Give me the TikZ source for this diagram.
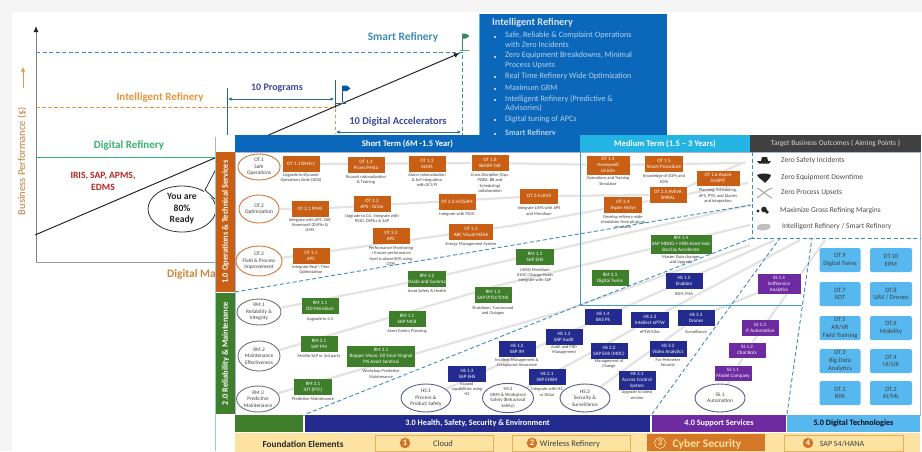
\documentclass[tikz,border=0pt]{standalone}
\usepackage{fontspec}
\setmainfont{Carlito}
\usetikzlibrary{shapes.geometric,arrows.meta}
\definecolor{cOr}{HTML}{C95F14}
\definecolor{cGr}{HTML}{3F7F2C}
\definecolor{cNv}{HTML}{232C8E}
\definecolor{cPu}{HTML}{6E2AA0}
\definecolor{cLb}{HTML}{56B8EE}
\definecolor{cDash}{HTML}{3E8DB8}
\definecolor{cBlue}{HTML}{0A67BA}
\definecolor{cFnd}{HTML}{FDE3A2}
\definecolor{cPan}{HTML}{A9B4DA}
\definecolor{cTitle}{HTML}{3B4A9A}
\definecolor{cIntOr}{HTML}{E2973F}
\definecolor{cDigGr}{HTML}{35B56E}
\tikzset{
 tbox/.style={draw=none,inner sep=0pt,align=center,text=white,font=\fontsize{5}{5.8}\selectfont},
 obox/.style={tbox,fill=cOr},
 gbox/.style={tbox,fill=cGr},
 nbox/.style={tbox,fill=cNv},
 pbox/.style={tbox,fill=cPu},
 dbox/.style={draw=none,fill=cLb,rounded corners=1.5pt,inner sep=0pt,align=center,text=black!75,font=\fontsize{6.5}{7.8}\selectfont},
 capt/.style={inner sep=0pt,align=center,text=black!75,font=\fontsize{4.4}{5.2}\selectfont},
 oval/.style={ellipse,draw,line width=.9pt,fill=white,inner sep=0pt,align=center,text=black!75,font=\fontsize{5.3}{6.4}\selectfont},
 oovl/.style={oval,draw=cOr!85!white},
 govl/.style={oval,draw=black!55},
 novl/.style={oval,draw=cNv!60!black!70},
 bdash/.style={draw=cDash,line width=.9pt,dash pattern=on 4pt off 2.5pt},
 flowline/.style={draw=black!11,line width=2.2pt},
 tbar/.style={inner sep=0pt,align=center},
 thead/.style={tbar,text=white,font=\fontsize{8.6}{10}\selectfont\bfseries},
 outc/.style={anchor=west,inner sep=0pt,text=black!70,font=\fontsize{7.5}{8.5}\selectfont},
 bull/.style={anchor=north west,inner sep=0pt,text=white!70!cBlue,align=left,font=\fontsize{8.2}{9.3}\selectfont},
 fnd/.style={draw=cIntOr!70!cFnd,fill=cFnd,line width=.5pt,inner sep=0pt},
 numc/.style={circle,fill=cIntOr!40!cOr,text=white,inner sep=0pt,minimum size=10.5pt,font=\fontsize{8.5}{9}\selectfont\bfseries},
 dblarr/.style={{Latex[length=3.5pt,width=3.5pt]}-{Latex[length=3.5pt,width=3.5pt]},draw=black!25!cDash,line width=.6pt},
}
\newcommand{\bx}[9]{\node[#6,minimum width=#4pt,minimum height=#5pt] (#1) at (#2,#3) {#7};
 \if\relax\detokenize{#8}\relax\else\node[capt] (#1-c) at (#2,#9) {#8};\fi}
\pgfdeclarelayer{back}\pgfdeclarelayer{flowl}\pgfsetlayers{back,flowl,main}
\begin{document}
\begin{tikzpicture}[x=1pt,y=-1pt]
\useasboundingbox (0,0) rectangle (922,451);
\begin{pgfonlayer}{back}
\fill[white] (0,0) rectangle (922,451);
\fill[black!4] (0,0) rectangle (922,12);
\fill[black!4] (0,0) rectangle (12,451);
% chart
\coordinate (ax0) at (36,262); \coordinate (axT) at (36,26); \coordinate (axR) at (216,262);
\coordinate (grE) at (215,157); \coordinate (gr0) at (36,157);
\coordinate (dg0) at (35,235); \coordinate (dg1) at (460,53);
\coordinate (bl0) at (36,52); \coordinate (bl1) at (462,52); \coordinate (bl2) at (462,135);
\coordinate (or0) at (36,107.5); \coordinate (or1) at (335,107.5); \coordinate (or2) at (335,133);
\coordinate (v1a) at (227,88); \coordinate (v1b) at (227,135);
\coordinate (v2a) at (335,80); \coordinate (v3a) at (215,137);
\coordinate (p0) at (228,99); \coordinate (p1) at (334,99);
\coordinate (da0) at (336,132); \coordinate (da1) at (461,132);
\coordinate (ya) at (23,88); \coordinate (yb) at (23,67);
\draw[black!40,line width=1pt] (ax0) -- (axR);
\draw[black!50,line width=.9pt,-{Latex[length=6pt,width=5pt,color=black!85]}] (ax0) -- (axT);
\draw[cDigGr,line width=1pt] (gr0) -- (grE);
\draw[black!30,line width=.6pt] (v3a) -- (grE);
\draw[black!30!cDash,line width=.4pt] (v1a) -- (v1b);
\draw[black!30!cDash,line width=.4pt] (v2a) -- (or1);
\draw[bdash] (bl0) -- (bl1) -- (bl2);
\draw[cIntOr,line width=.9pt,dash pattern=on 3.5pt off 2.5pt] (or0) -- (or1) -- (or2);
\draw[black!85,line width=1pt,-{Latex[length=6pt,width=5pt]}] (dg0) -- (dg1);
\draw[dblarr] (p0) -- (p1);
\draw[dblarr] (da0) -- (da1);
\draw[cIntOr,line width=.7pt,-{Latex[length=4.5pt,width=4.5pt]}] (ya) -- (yb);
% flags
\draw[cBlue!85!black,line width=1pt] (342,86) -- (342,102);
\fill[cBlue!85!black] (342,85.5) -- (347,85.5) -- (350.5,88.5) -- (347,91) -- (342,91) -- cycle;
\draw[black!30!cDash,line width=.8pt] (336,103) -- (346,103);
\draw[cDigGr!70!black!90,line width=1pt] (462,34) -- (462,50);
\fill[cDigGr!70!black!90] (462,33.5) -- (466,33.5) -- (469.5,36) -- (466,38.5) -- (462,38.5) -- cycle;
\draw[cDigGr,line width=.6pt] (460,50) -- (469,50);
\node[inner sep=0pt,text=cDash,font=\fontsize{11.4}{13}\selectfont\bfseries] (smart) at (403,37) {Smart Refinery};
\node[inner sep=0pt,text=cIntOr,font=\fontsize{11}{13}\selectfont\bfseries] (intel) at (160,98) {Intelligent Refinery};
\node[inner sep=0pt,text=cDigGr,font=\fontsize{11}{13}\selectfont\bfseries] (digi) at (129,146) {Digital Refinery};
\node[inner sep=0pt,align=center,text=red!65!black!85,font=\fontsize{9.6}{12}\selectfont\bfseries] (iris) at (103,181) {IRIS, SAP, APMS,\\EDMS};
\node[inner sep=0pt,rotate=90,text=cIntOr!85!black,font=\fontsize{10.5}{12}\selectfont] (bp) at (22,161) {Business Performance (\$)};
\node[inner sep=0pt,text=cTitle,font=\fontsize{10}{12}\selectfont\bfseries] (prog) at (277,88) {10 Programs};
\node[inner sep=0pt,text=cTitle,font=\fontsize{10.5}{12}\selectfont\bfseries] (acc) at (398,122) {10 Digital Accelerators};
\node[inner sep=0pt,anchor=west,text=cIntOr!90!black,font=\fontsize{11.4}{13}\selectfont\bfseries] (dm) at (167,274) {Digital Ma};
% bubble
\node[ellipse,draw=black!80,fill=white,line width=.8pt,minimum width=68pt,minimum height=46pt,inner sep=0pt,align=center,text=black!85,font=\fontsize{9.6}{11.6}\selectfont\bfseries] (bub) at (182,209) {You are\\80\%\\Ready};
\coordinate (t0) at (205,190); \coordinate (t1) at (216,169); \coordinate (t2) at (216,200);
\fill[white] (204,190) -- (t1) -- (t2) -- (204,193) -- cycle;
\draw[black!80,line width=.8pt] (t0) -- (t1) (t0) -- (t2);
% blue card
\fill[cBlue] (479,14) rectangle (667,136);
\draw[cLb,line width=.6pt] (479,14) -- (479,136);
\node[anchor=west,inner sep=0pt,text=white!85!cBlue,font=\fontsize{10.2}{12}\selectfont\bfseries] (ircard) at (492,23) {Intelligent Refinery};
\foreach \yy in {36.5,57,77,89,100,120,134} \fill[white!70!cBlue] (494.2,\yy-1) rectangle ++(2,2);
\node[bull] (b1) at (505,32) {Safe, Reliable \& Complaint  Operations\\with Zero Incidents};
\node[bull] (b2) at (505,52) {Zero Equipment Breakdowns, Minimal\\Process Upsets};
\node[bull] (b3) at (505,73) {Real Time Refinery Wide Optimization};
\node[bull] (b4) at (505,84.5) {Maximum GRM};
\node[bull] (b5) at (505,95) {Intelligent Refinery (Predictive \&\\Advisories)};
\node[bull] (b6) at (505,116) {Digital tuning of APCs};
\node[bull,font=\fontsize{8.2}{9.3}\selectfont\bfseries] (b7) at (505,129.5) {Smart Refinery};
% panel white
\fill[white] (216,135) rectangle (922,451);
\draw[cLb!70,line width=.7pt] (215.5,152) -- (215.5,451);
\end{pgfonlayer}
% headers
\node[thead,fill=cBlue,minimum width=345pt,minimum height=17pt] (hS) at (407.5,143.5) {Short Term (6M -1.5 Year)};
\node[thead,fill=cLb!55!cBlue!70!cyan,minimum width=170pt,minimum height=17pt] (hM) at (665,143.5) {Medium Term (1.5 -- 3 Years)};
\node[thead,fill=black!75,minimum width=171pt,minimum height=17pt,text=black!15,font=\fontsize{7.4}{9}\selectfont] (hT) at (835.5,143.5) {Target Business Outcomes ( Aiming Points )};
\draw[cPan,line width=.9pt] (235,152) rectangle (920,415);
\node[tbar,fill=cOr,text=white,rotate=90,minimum width=140pt,minimum height=19pt,font=\fontsize{8.4}{10}\selectfont\bfseries] (s1) at (225.5,222) {1.0 Operations \& Technical Services};
\node[tbar,fill=cGr,text=white,rotate=90,minimum width=121pt,minimum height=19pt,font=\fontsize{8.4}{10}\selectfont\bfseries] (s2) at (225.5,353.5) {2.0 Reliability \& Maintenance};
% ovals
\node[oovl,minimum width=42pt,minimum height=26pt] (ot1) at (259,167) {OT.1\\Safe\\Operations};
\node[oovl,minimum width=40pt,minimum height=28pt] (ot2) at (259,209) {OT.2\\Optimization};
\node[oovl,minimum width=42pt,minimum height=30pt] (ot3) at (259,261) {OT.3\\Field \& Process\\Improvement};
\node[govl,minimum width=44pt,minimum height=26pt] (rm1) at (259,312) {RM.1\\Reliability \&\\Integrity};
\node[govl,minimum width=42pt,minimum height=30pt] (rm2) at (259,356) {RM.2\\Maintenance\\Effectiveness};
\node[govl,minimum width=43pt,minimum height=26pt] (rm3) at (258,399) {RM.3\\Predictive\\Maintenance};
\node[novl,minimum width=50pt,minimum height=28pt] (hs1) at (426,398) {HS.1\\Process \&\\Product Safety};
\node[novl,minimum width=51pt,minimum height=29pt,font=\fontsize{4.8}{5.6}\selectfont] (hs2) at (508,398) {HS.2\\GRM \& Workplace\\Safety (Behavioral\\Safety)};
\node[novl,minimum width=50pt,minimum height=28pt] (hs3) at (585,398) {HS.3\\Security \&\\Surveillance};
\node[novl,minimum width=50pt,minimum height=28pt] (ss1) at (720,398) {SS.1\\Automation};
% orange
\bx{o11}{301}{164}{37}{16}{obox}{OT 1.1 DMFrz}{Upgrade to Dynamic\\Operations Suite (DOS)}{178}
\bx{o12}{366}{165}{37}{16}{obox}{OT 1.2\\Pcons/Meta}{Rounds rationalization\\\& Training}{180}
\bx{o13}{427}{164}{37}{16}{obox}{OT 1.3\\ALMS}{Alarm rationalization\\\& full integration\\with DCS PI}{180}
\bx{o18}{490}{163}{37}{16}{obox}{OT 1.8\\BeSIM Yalt}{Cross Discipline (Ops,\\PDBA, BB and\\Scheduling)\\collaboration}{183}
\bx{o21}{310}{209}{37}{16}{obox}{OT 2.1 PIMS}{Integrate with APS, SAP,\\Honeywell (DVFhz \&\\LIMS}{225}
\bx{o22}{372}{204}{37}{16}{obox}{OT 2.2\\APS - Orion}{Upgrade to CLI, Integrate with\\PIOG, DVFhz \& SAP}{219}
\bx{o23}{457}{202}{37}{16}{obox}{OT 2.3 H/CSAM}{Integrate with PIOG}{214}
\bx{o24}{539}{196}{38}{15}{obox}{OT 2.4 LIMS}{Integrate LIMS with APS\\and Meridium}{211}
\bx{o31}{311}{256}{37}{16.5}{obox}{OT 3.1\\APC}{Integrate Real \textbackslash\ Time\\Optimization}{270}
\bx{o32}{391}{236}{37}{16}{obox}{OT 3.2\\APC}{Performance Monitoring\\+ Ensure performance\\level is above 80\% using\\OTPs}{256}
\bx{o33}{471}{232}{44}{16}{obox}{OT 3.3\\ABC Visual MESA}{Energy Management System}{244}
\bx{o34}{623}{205}{38}{15.5}{obox}{OT 3.4\\Aspen HySys}{Develop refinery wide\\simulation from plugs up\\simulator}{222}
\bx{o14}{608}{165}{43}{19}{obox}{OT 1.4\\Honeywell\\Unisim}{Operations and Training\\Simulator}{181}
\bx{o15}{664}{164}{38}{16}{obox}{OT 1.5\\Smart Procedure}{Knowledge of SOPs and\\SOPs}{179}
\bx{o16}{718}{178}{43}{15}{obox}{OT 1.6 Aspen\\AUSPIT}{Planning, Scheduling,\\APS, PTO, and Diaries\\and integration}{196}
\bx{o25}{668}{195}{37}{16}{obox}{OT 2.5 AVEVA\\SPIRAL}{}{}
% green
\bx{g12}{427}{279}{37}{16}{gbox}{RM 1.2\\Oxide and Gumma}{Asset Safety \& Health}{291}
\bx{g11}{320}{306}{37}{16}{gbox}{RM 1.1\\OD Meridium}{Upgrade to 4.5}{319}
\bx{g13}{493}{295}{37}{16}{gbox}{RM 1.3\\SAP (PTO/TCM)}{Shutdown, Turnaround\\and Outages}{311}
\bx{g1e}{535}{257}{38}{16}{gbox}{RM 1.3\\SAP EHS}{(IHSS) Meridium\\(HOC) Change Haras\\Integrate with SAP}{275}
\bx{g1b}{407}{319}{37}{16}{gbox}{RM 1.1\\SAP MCB}{Asset Gentry Planning}{331}
\bx{g21}{319}{344}{37}{16}{gbox}{RM 2.1\\SAP PM}{Mobile SAP or 3rd party}{356}
\bx{g3a}{381}{356}{68}{21}{gbox}{RM 3.1\\Bopper Moan, Dil Smai Vingnal\\PIS Asset Sentinal}{Workshop Predictive\\Maintenance}{374}
\bx{g31}{313}{387}{38}{16}{gbox}{RM 3.1\\IOT (PTC)}{Predictive Maintenance}{399}
\bx{g14}{681}{244}{61}{19}{gbox}{RM 1.4\\SAP MDOG + MRS Asset Hub\\Barclay Accelerate}{Master Data changes\\and Upgrade}{260}
\bx{g23}{610}{278}{37}{16.5}{gbox}{RM 2.3\\Digital Twins}{}{}
% navy
\bx{n15}{684}{281}{37}{16}{nbox}{HS 1.5\\Enablon}{RSM, PHA}{294}
\bx{n14}{603}{317}{37}{16}{nbox}{HS 1.4\\BAS PS}{}{}
\bx{n23}{650}{320}{38}{16}{nbox}{HS 2.3\\Intellect ePTW}{ePTW/Dlse}{332}
\bx{n33}{696}{318}{37}{16}{nbox}{HS 3.3\\Drones}{Surveillance}{332}
\bx{n13}{564}{337}{37}{16}{nbox}{HS 1.3\\SAP Audit}{Audit and PRD\\Management}{350}
\bx{n22}{609}{351}{37}{15.5}{nbox}{HS 2.2\\SAP EHS (MOC)}{Management of\\Change}{364}
\bx{n32}{668}{349}{37}{16}{nbox}{HS 3.2\\Video Analytics}{For Perimeter\\Security}{363}
\bx{n12}{517}{349}{37}{16}{nbox}{HS 1.2\\SAP IM}{Incident Management \&\\Compliance Assurance}{363}
\bx{n21}{547}{377}{37}{16}{nbox}{HS 2.1\\SAP EHSM}{Integrate with H2\\or DOxn}{392}
\bx{n31}{637}{380}{37}{19}{nbox}{HS 3.1\\Access Control\\System}{Upgrade to latest\\version}{395}
\bx{n11}{467}{374}{38}{16}{nbox}{HS 1.3\\SAP EHS}{Expand\\capabilities using\\H2}{389}
% purple
\bx{p14}{779}{284}{43}{20}{pbox}{SS 1.4\\SelfService\\Analytics}{}{}
\bx{p13}{760}{328}{37}{16.5}{pbox}{SS 1.3\\IT Automation}{}{}
\bx{p12}{747}{350}{37}{15}{pbox}{SS 1.2\\Chat Bots}{}{}
\bx{p11}{733}{373}{37}{15}{pbox}{SS 1.1\\Model Company}{}{}
% digital
\bx{d9}{840}{260}{41}{24}{dbox}{DT.9\\Digital Twins}{}{}
\bx{d10}{891}{260}{42}{24}{dbox}{DT.10\\EPM}{}{}
\bx{d7}{840}{294}{41}{24}{dbox}{DT.7\\IIOT}{}{}
\bx{d8}{891}{294}{42}{24}{dbox}{DT.8\\UAV / Drones}{}{}
\bx{d5}{840}{328}{41}{24}{dbox}{DT.5\\AR/VR\\Field Training}{}{}
\bx{d6}{891}{328}{42}{24}{dbox}{DT.6\\Mobility}{}{}
\bx{d3}{840}{361}{41}{24}{dbox}{DT.3\\Big Data\\Analytics}{}{}
\bx{d4}{891}{361}{42}{24}{dbox}{DT.4\\UI/UX}{}{}
\bx{d1}{840}{393}{41}{24}{dbox}{DT.1\\RPA}{}{}
\bx{d2}{891}{393}{42}{24}{dbox}{DT.2\\AI/ML}{}{}
% boundaries
\coordinate (m0) at (580,152); \coordinate (m1) at (580,305); \coordinate (m2) at (802,305);
\coordinate (e0) at (235,292); \coordinate (e1) at (751,205);
\coordinate (f0) at (752,152); \coordinate (f1) at (752,238); \coordinate (f2) at (920,238);
\coordinate (k0) at (306,414);
\coordinate (j0) at (652,414); \coordinate (j1) at (780,238);
\coordinate (l0) at (787,414); \coordinate (l1) at (812,238);
\draw[cDash!70!cLb,line width=.8pt] (m0) -- (m1) -- (m2);
\draw[bdash] (e0) -- (e1);
\draw[bdash] (f0) -- (f1) -- (f2);
\draw[bdash] (f1) -- (m1) -- (k0);
\draw[bdash] (j0) -- (j1);
\draw[bdash] (l0) -- (l1);
% outcomes
\node[outc] (z1) at (781,160) {Zero Safety Incidents};
\node[outc] (z2) at (781,178) {Zero Equipment  Downtime};
\node[outc] (z3) at (781,193) {Zero Process Upsets};
\node[outc] (z4) at (780,211) {Maximize Gross Refining Margins};
\node[outc] (z5) at (782,227) {Intelligent Refinery / Smart Refinery};
\fill[black!85] (757,161) -- (771,161) -- (769,163.5) -- (759,163.5) -- cycle (761,161) -- (762,157) -- (767,157) -- (768,161) -- cycle;
\fill[black!85] (757,175) .. controls (760,173) and (768,173) .. (771,175) .. controls (770,179) and (767,180) .. (765,183) .. controls (763,180) and (759,179) .. (757,175) -- cycle;
\draw[black!35,line width=1pt] (757,188) .. controls (762,190) and (766,195) .. (772,198) (757,198) .. controls (762,195) and (766,190) .. (772,188);
\fill[black!85] (758,211) circle (1.6) (764,209.5) circle (2.8) (767,212) circle (1.8);
\fill[black!25] (757,229) .. controls (756,225) and (761,223) .. (765,224) .. controls (771,223) and (772,227) .. (769,229) .. controls (765,231) and (759,231) .. (757,229) -- cycle;
% bottom bars
\node[tbar,fill=cGr,minimum width=68pt,minimum height=17pt] (bG) at (269,423.5) {};
\node[tbar,fill=cNv,text=white,minimum width=345pt,minimum height=17pt,font=\fontsize{8.2}{10}\selectfont\bfseries] (bN) at (477.5,423.5) {3.0 Health, Safety, Security \& Environment};
\node[tbar,fill=cPu,text=white,minimum width=134pt,minimum height=17pt,font=\fontsize{8.2}{10}\selectfont\bfseries] (bP) at (719,423.5) {4.0 Support Services};
\node[tbar,fill=cLb,text=black!80!cNv,minimum width=133pt,minimum height=17pt,font=\fontsize{8.2}{10}\selectfont\bfseries] (bL) at (853.5,423.5) {5.0 Digital Technologies};
\node[tbar,fill=cFnd,minimum width=685pt,minimum height=19pt] (bF) at (577.5,442) {};
\node[inner sep=0pt,text=black!85,font=\fontsize{9.2}{11}\selectfont\bfseries] (fe) at (303,444) {Foundation Elements};
\node[fnd,minimum width=118pt,minimum height=16pt] (fb1) at (434,443) {};
\node[numc] (n1) at (405,443) {1};
\node[inner sep=0pt,text=black!75,font=\fontsize{8.5}{10}\selectfont] (ft1) at (443,444) {Cloud};
\node[fnd,minimum width=118pt,minimum height=16pt] (fb2) at (571,443) {};
\node[numc] (n2) at (532,443) {2};
\node[inner sep=0pt,text=black!75,font=\fontsize{8.5}{10}\selectfont] (ft2) at (570,444) {Wireless Refinery};
\node[tbar,fill=cIntOr!45!cOr,minimum width=118pt,minimum height=17pt] (fb3) at (706,442.5) {};
\node[circle,draw=cFnd,line width=.6pt,text=cFnd,inner sep=0pt,minimum size=11pt,font=\fontsize{9}{10}\selectfont\bfseries] (n3) at (660,443) {3};
\node[inner sep=0pt,text=cFnd,font=\fontsize{11.5}{13}\selectfont\bfseries] (ft3) at (707,444) {Cyber Security};
\node[fnd,minimum width=119pt,minimum height=16pt] (fb4) at (843.5,443) {};
\node[numc] (n4) at (808,443) {4};
\node[inner sep=0pt,text=black!75,font=\fontsize{8}{10}\selectfont] (ft4) at (842,444) {SAP S4/HANA};
% grey process lines
\begin{pgfonlayer}{flowl}
\coordinate (a1) at (745,163); \coordinate (a2) at (745,162);
\coordinate (a3) at (510,226); \coordinate (a4) at (748,183);
\coordinate (a5) at (750,205); \coordinate (a6) at (500,285); \coordinate (a7) at (750,225);
\coordinate (a8) at (560,312); \coordinate (a9) at (750,245);
\coordinate (a10) at (775,240); \coordinate (a11) at (800,240); \coordinate (a12) at (825,240);
\draw[flowline] (ot1) -- (o11) -- (o18) -- (o14) -- (a1);
\draw[flowline] (ot2) -- (o21) -- (o24) -- (o25) -- (a2);
\draw[flowline] (ot3) -- (a3) -- (a4);
\draw[flowline] (rm1) -- (g12) -- (a5);
\draw[flowline] (rm2) -- (a6) -- (a7);
\draw[flowline] (rm3) -- (a8) -- (a9);
\draw[flowline] (hs1) -- (n14) -- (a10);
\draw[flowline] (hs2) -- (n23) -- (a11);
\draw[flowline] (hs3) -- (n33) -- (p14);
\draw[flowline] (ss1) -- (p12) -- (a12);
\end{pgfonlayer}
\end{tikzpicture}
\end{document}
